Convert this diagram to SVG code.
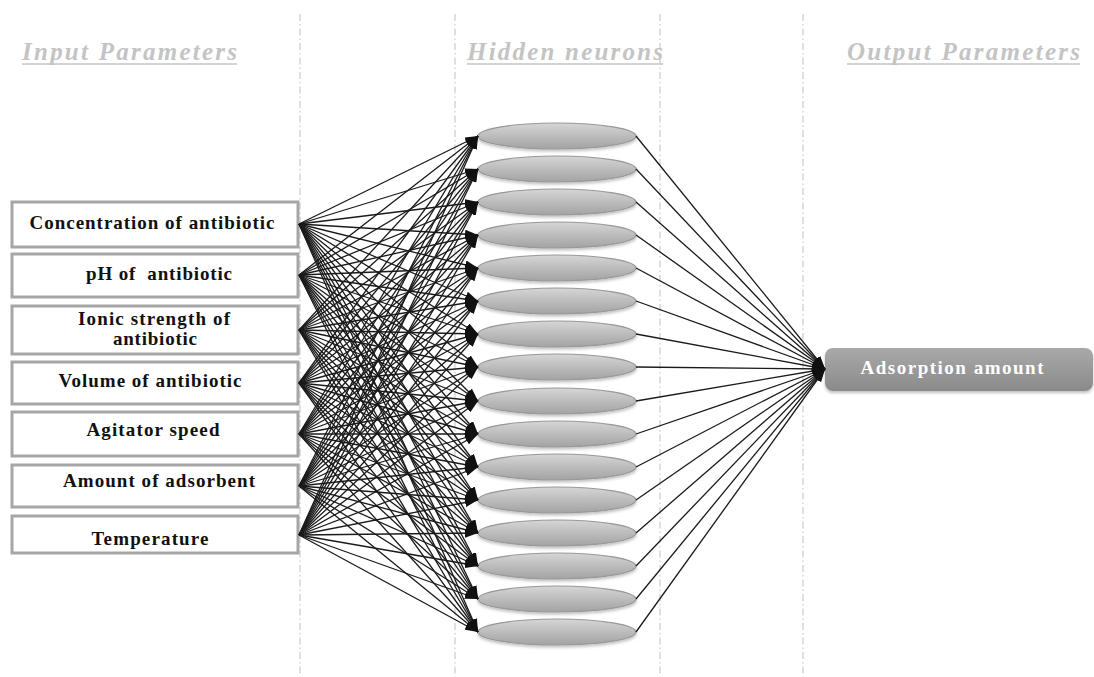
<svg xmlns="http://www.w3.org/2000/svg" width="1094" height="677" viewBox="0 0 1094 677">
<style>
.hdr{font-family:"Liberation Serif",serif;font-weight:bold;font-style:italic;font-size:25px;fill:#c4c4c4}
.ul{stroke:#c4c4c4;stroke-width:1.6}
.dv{stroke:#c0c0c0;stroke-width:1;stroke-dasharray:7,3,1.5,3;fill:none}
.box{fill:#fff;stroke:#a6a6a6;stroke-width:3}
.lbl{font-family:"Liberation Serif",serif;font-weight:bold;font-size:19px;fill:#111;text-anchor:middle;white-space:pre}
.neu{fill:url(#ng);stroke:#999;stroke-width:1.2;filter:url(#sh)}
.c line{stroke:#1a1a1a;stroke-width:1.3;marker-end:url(#a)}
.out{fill:url(#og);filter:url(#sh)}
.otxt{font-family:"Liberation Serif",serif;font-weight:bold;font-size:19px;fill:#fff;text-anchor:middle}
</style>
<defs>
<marker id="a" markerUnits="userSpaceOnUse" markerWidth="13" markerHeight="9" refX="13" refY="4.5" orient="auto">
<path d="M0,0 L13,4.5 L0,9 z" fill="#111"/>
</marker>
<linearGradient id="ng" x1="0" y1="0" x2="0" y2="1">
<stop offset="0" stop-color="#d6d6d6"/>
<stop offset="0.5" stop-color="#bcbcbc"/>
<stop offset="1" stop-color="#a3a3a3"/>
</linearGradient>
<linearGradient id="og" x1="0" y1="0" x2="0" y2="1">
<stop offset="0" stop-color="#a9a9a9"/>
<stop offset="1" stop-color="#8a8a8a"/>
</linearGradient>
<filter id="sh" x="-10%" y="-30%" width="120%" height="170%">
<feDropShadow dx="0" dy="2" stdDeviation="1.5" flood-color="#000" flood-opacity="0.25"/>
</filter>
</defs>
<rect width="1094" height="677" fill="#fff"/>
<g id="dividers">
<line class="dv" x1="300" y1="14" x2="300" y2="677"/>
<line class="dv" x1="455" y1="14" x2="455" y2="677"/>
<line class="dv" x1="660" y1="14" x2="660" y2="677"/>
<line class="dv" x1="803" y1="14" x2="803" y2="677"/>
</g>
<g id="headers">
<text class="hdr" x="22" y="60" textLength="215" lengthAdjust="spacing">Input Parameters</text>
<line class="ul" x1="22" y1="64" x2="237" y2="64"/>
<text class="hdr" x="467" y="60" textLength="196" lengthAdjust="spacing">Hidden neurons</text>
<line class="ul" x1="467" y1="64" x2="663" y2="64"/>
<text class="hdr" x="847" y="60" textLength="233" lengthAdjust="spacing">Output Parameters</text>
<line class="ul" x1="847" y1="64" x2="1080" y2="64"/>
</g>
<g id="inputs">
<g id="in1"><rect class="box" x="12" y="202" width="286" height="45"/><text class="lbl" x="152" y="229" textLength="245" lengthAdjust="spacing">Concentration of antibiotic</text></g>
<g id="in2"><rect class="box" x="12" y="254" width="286" height="43"/><text class="lbl" x="159" y="280" textLength="146" lengthAdjust="spacing">pH of  antibiotic</text></g>
<g id="in3"><rect class="box" x="12" y="306" width="286" height="48"/><text class="lbl" x="154" y="325" textLength="152" lengthAdjust="spacing">Ionic strength of</text><text class="lbl" x="155" y="345" textLength="84" lengthAdjust="spacing">antibiotic</text></g>
<g id="in4"><rect class="box" x="12" y="362" width="286" height="42"/><text class="lbl" x="150" y="387" textLength="183" lengthAdjust="spacing">Volume of antibiotic</text></g>
<g id="in5"><rect class="box" x="12" y="412" width="286" height="44"/><text class="lbl" x="153" y="436" textLength="133" lengthAdjust="spacing">Agitator speed</text></g>
<g id="in6"><rect class="box" x="12" y="465" width="286" height="42"/><text class="lbl" x="159" y="487" textLength="192" lengthAdjust="spacing">Amount of adsorbent</text></g>
<g id="in7"><rect class="box" x="12" y="516" width="286" height="37"/><text class="lbl" x="150" y="545" textLength="117" lengthAdjust="spacing">Temperature</text></g>
</g>
<g id="hidden">
<g id="h1"><ellipse class="neu" cx="557" cy="136" rx="79" ry="13"/></g>
<g id="h2"><ellipse class="neu" cx="557" cy="169" rx="79" ry="13"/></g>
<g id="h3"><ellipse class="neu" cx="557" cy="202" rx="79" ry="13"/></g>
<g id="h4"><ellipse class="neu" cx="557" cy="235" rx="79" ry="13"/></g>
<g id="h5"><ellipse class="neu" cx="557" cy="268" rx="79" ry="13"/></g>
<g id="h6"><ellipse class="neu" cx="557" cy="301" rx="79" ry="13"/></g>
<g id="h7"><ellipse class="neu" cx="557" cy="334" rx="79" ry="13"/></g>
<g id="h8"><ellipse class="neu" cx="557" cy="367" rx="79" ry="13"/></g>
<g id="h9"><ellipse class="neu" cx="557" cy="401" rx="79" ry="13"/></g>
<g id="h10"><ellipse class="neu" cx="557" cy="434" rx="79" ry="13"/></g>
<g id="h11"><ellipse class="neu" cx="557" cy="467" rx="79" ry="13"/></g>
<g id="h12"><ellipse class="neu" cx="557" cy="500" rx="79" ry="13"/></g>
<g id="h13"><ellipse class="neu" cx="557" cy="533" rx="79" ry="13"/></g>
<g id="h14"><ellipse class="neu" cx="557" cy="566" rx="79" ry="13"/></g>
<g id="h15"><ellipse class="neu" cx="557" cy="599" rx="79" ry="13"/></g>
<g id="h16"><ellipse class="neu" cx="557" cy="632" rx="79" ry="13"/></g>
</g>
<g id="output">
<rect class="out" x="825" y="348" width="268" height="43" rx="8"/>
<text class="otxt" x="952" y="374" textLength="183" lengthAdjust="spacing">Adsorption amount</text>
</g>
<g id="connectors" class="c">
<line x1="299" y1="224" x2="478" y2="136"/><line x1="299" y1="224" x2="478" y2="169"/><line x1="299" y1="224" x2="478" y2="202"/><line x1="299" y1="224" x2="478" y2="235"/><line x1="299" y1="224" x2="478" y2="268"/><line x1="299" y1="224" x2="478" y2="301"/><line x1="299" y1="224" x2="478" y2="334"/><line x1="299" y1="224" x2="478" y2="367"/><line x1="299" y1="224" x2="478" y2="401"/><line x1="299" y1="224" x2="478" y2="434"/><line x1="299" y1="224" x2="478" y2="467"/><line x1="299" y1="224" x2="478" y2="500"/><line x1="299" y1="224" x2="478" y2="533"/><line x1="299" y1="224" x2="478" y2="566"/><line x1="299" y1="224" x2="478" y2="599"/><line x1="299" y1="224" x2="478" y2="632"/>
<line x1="299" y1="275" x2="478" y2="136"/><line x1="299" y1="275" x2="478" y2="169"/><line x1="299" y1="275" x2="478" y2="202"/><line x1="299" y1="275" x2="478" y2="235"/><line x1="299" y1="275" x2="478" y2="268"/><line x1="299" y1="275" x2="478" y2="301"/><line x1="299" y1="275" x2="478" y2="334"/><line x1="299" y1="275" x2="478" y2="367"/><line x1="299" y1="275" x2="478" y2="401"/><line x1="299" y1="275" x2="478" y2="434"/><line x1="299" y1="275" x2="478" y2="467"/><line x1="299" y1="275" x2="478" y2="500"/><line x1="299" y1="275" x2="478" y2="533"/><line x1="299" y1="275" x2="478" y2="566"/><line x1="299" y1="275" x2="478" y2="599"/><line x1="299" y1="275" x2="478" y2="632"/>
<line x1="299" y1="330" x2="478" y2="136"/><line x1="299" y1="330" x2="478" y2="169"/><line x1="299" y1="330" x2="478" y2="202"/><line x1="299" y1="330" x2="478" y2="235"/><line x1="299" y1="330" x2="478" y2="268"/><line x1="299" y1="330" x2="478" y2="301"/><line x1="299" y1="330" x2="478" y2="334"/><line x1="299" y1="330" x2="478" y2="367"/><line x1="299" y1="330" x2="478" y2="401"/><line x1="299" y1="330" x2="478" y2="434"/><line x1="299" y1="330" x2="478" y2="467"/><line x1="299" y1="330" x2="478" y2="500"/><line x1="299" y1="330" x2="478" y2="533"/><line x1="299" y1="330" x2="478" y2="566"/><line x1="299" y1="330" x2="478" y2="599"/><line x1="299" y1="330" x2="478" y2="632"/>
<line x1="299" y1="383" x2="478" y2="136"/><line x1="299" y1="383" x2="478" y2="169"/><line x1="299" y1="383" x2="478" y2="202"/><line x1="299" y1="383" x2="478" y2="235"/><line x1="299" y1="383" x2="478" y2="268"/><line x1="299" y1="383" x2="478" y2="301"/><line x1="299" y1="383" x2="478" y2="334"/><line x1="299" y1="383" x2="478" y2="367"/><line x1="299" y1="383" x2="478" y2="401"/><line x1="299" y1="383" x2="478" y2="434"/><line x1="299" y1="383" x2="478" y2="467"/><line x1="299" y1="383" x2="478" y2="500"/><line x1="299" y1="383" x2="478" y2="533"/><line x1="299" y1="383" x2="478" y2="566"/><line x1="299" y1="383" x2="478" y2="599"/><line x1="299" y1="383" x2="478" y2="632"/>
<line x1="299" y1="434" x2="478" y2="136"/><line x1="299" y1="434" x2="478" y2="169"/><line x1="299" y1="434" x2="478" y2="202"/><line x1="299" y1="434" x2="478" y2="235"/><line x1="299" y1="434" x2="478" y2="268"/><line x1="299" y1="434" x2="478" y2="301"/><line x1="299" y1="434" x2="478" y2="334"/><line x1="299" y1="434" x2="478" y2="367"/><line x1="299" y1="434" x2="478" y2="401"/><line x1="299" y1="434" x2="478" y2="434"/><line x1="299" y1="434" x2="478" y2="467"/><line x1="299" y1="434" x2="478" y2="500"/><line x1="299" y1="434" x2="478" y2="533"/><line x1="299" y1="434" x2="478" y2="566"/><line x1="299" y1="434" x2="478" y2="599"/><line x1="299" y1="434" x2="478" y2="632"/>
<line x1="299" y1="486" x2="478" y2="136"/><line x1="299" y1="486" x2="478" y2="169"/><line x1="299" y1="486" x2="478" y2="202"/><line x1="299" y1="486" x2="478" y2="235"/><line x1="299" y1="486" x2="478" y2="268"/><line x1="299" y1="486" x2="478" y2="301"/><line x1="299" y1="486" x2="478" y2="334"/><line x1="299" y1="486" x2="478" y2="367"/><line x1="299" y1="486" x2="478" y2="401"/><line x1="299" y1="486" x2="478" y2="434"/><line x1="299" y1="486" x2="478" y2="467"/><line x1="299" y1="486" x2="478" y2="500"/><line x1="299" y1="486" x2="478" y2="533"/><line x1="299" y1="486" x2="478" y2="566"/><line x1="299" y1="486" x2="478" y2="599"/><line x1="299" y1="486" x2="478" y2="632"/>
<line x1="299" y1="535" x2="478" y2="136"/><line x1="299" y1="535" x2="478" y2="169"/><line x1="299" y1="535" x2="478" y2="202"/><line x1="299" y1="535" x2="478" y2="235"/><line x1="299" y1="535" x2="478" y2="268"/><line x1="299" y1="535" x2="478" y2="301"/><line x1="299" y1="535" x2="478" y2="334"/><line x1="299" y1="535" x2="478" y2="367"/><line x1="299" y1="535" x2="478" y2="401"/><line x1="299" y1="535" x2="478" y2="434"/><line x1="299" y1="535" x2="478" y2="467"/><line x1="299" y1="535" x2="478" y2="500"/><line x1="299" y1="535" x2="478" y2="533"/><line x1="299" y1="535" x2="478" y2="566"/><line x1="299" y1="535" x2="478" y2="599"/><line x1="299" y1="535" x2="478" y2="632"/>
<line x1="636" y1="136" x2="825" y2="369"/><line x1="636" y1="169" x2="825" y2="369"/><line x1="636" y1="202" x2="825" y2="369"/><line x1="636" y1="235" x2="825" y2="369"/><line x1="636" y1="268" x2="825" y2="369"/><line x1="636" y1="301" x2="825" y2="369"/><line x1="636" y1="334" x2="825" y2="369"/><line x1="636" y1="367" x2="825" y2="369"/><line x1="636" y1="401" x2="825" y2="369"/><line x1="636" y1="434" x2="825" y2="369"/><line x1="636" y1="467" x2="825" y2="369"/><line x1="636" y1="500" x2="825" y2="369"/><line x1="636" y1="533" x2="825" y2="369"/><line x1="636" y1="566" x2="825" y2="369"/><line x1="636" y1="599" x2="825" y2="369"/><line x1="636" y1="632" x2="825" y2="369"/>
</g>
</svg>
